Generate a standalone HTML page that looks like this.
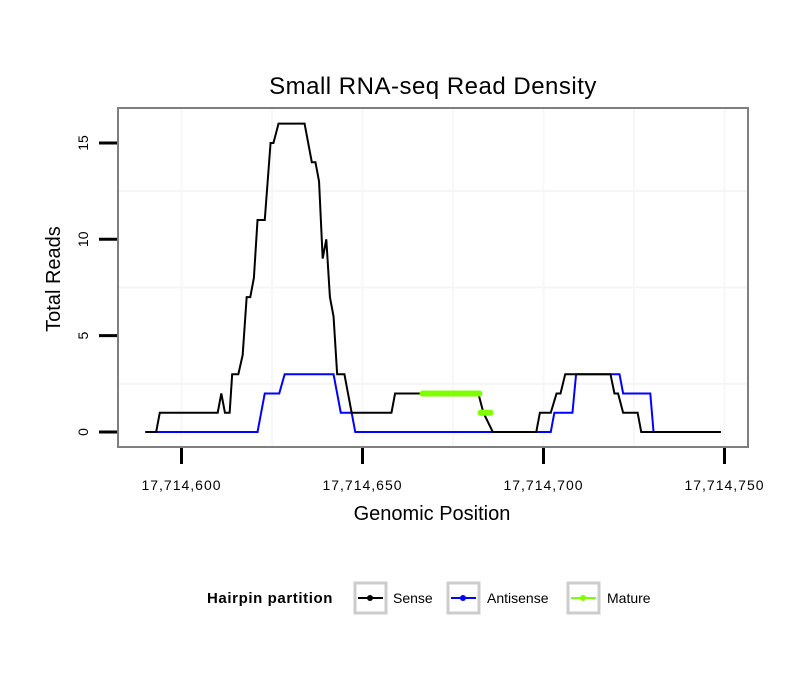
<!DOCTYPE html>
<html><head><meta charset="utf-8"><style>
body{margin:0;background:#fff}
svg text{font-family:"Liberation Sans",sans-serif}
</style></head><body>
<svg id="c" width="810" height="690">
<rect width="810" height="690" fill="#fff"/>
<text x="433" y="94" text-anchor="middle" font-size="24" letter-spacing="0.5">Small RNA-seq Read Density</text>
<g id="grid"></g>
<g id="series"></g>
<rect x="118" y="108" width="630" height="339" fill="none" stroke="#7f7f7f" stroke-width="2"/>
<g id="axes"></g>
<text x="432" y="520" text-anchor="middle" font-size="20">Genomic Position</text>
<text transform="translate(60,279) rotate(-90)" text-anchor="middle" font-size="20">Total Reads</text>
<g>
<text x="207" y="603" font-size="15" font-weight="bold" letter-spacing="0.6">Hairpin partition</text>
<g>
<rect x="355" y="583" width="31" height="30" fill="none" stroke="#ccc" stroke-width="3"/>
<line x1="358" y1="598" x2="383" y2="598" stroke="#000" stroke-width="2"/><circle cx="370" cy="598" r="3" fill="#000"/>
<text x="393" y="603" font-size="14">Sense</text></g>
<g>
<rect x="448" y="583" width="31" height="30" fill="none" stroke="#ccc" stroke-width="3"/>
<line x1="451" y1="598" x2="476" y2="598" stroke="#00f" stroke-width="2"/><circle cx="463" cy="598" r="3" fill="#00f"/>
<text x="487" y="603" font-size="14">Antisense</text></g>
<g>
<rect x="568" y="583" width="31" height="30" fill="none" stroke="#ccc" stroke-width="3"/>
<line x1="571" y1="598" x2="596" y2="598" stroke="#7fff00" stroke-width="2"/><circle cx="583" cy="598" r="3" fill="#7fff00"/>
<text x="607" y="603" font-size="14">Mature</text></g>
</g>
</svg>
<script>
const base = 17714600;
const xTicks = [17714600, 17714650, 17714700, 17714750];
const yTicks = [0, 5, 10, 15];
const senseX = [-10,-7,-6,10,11,12,13.3,14,15.7,16.9,18,19,20,21,23,24.6,25.4,26.8,34,36,37,38,39,40,41,42,43,45,47,58,59,82,83.4,86,98,99,102,103.6,104.7,106,118.5,119.6,120.6,122,126,127,149];
const senseY = [0,0,1,1,2,1,1,3,3,4,7,7,8,11,11,15,15,16,16,14,14,13,9,10,7,6,3,3,1,1,2,2,1,0,0,1,1,2,2,3,3,2,2,1,1,0,0];
const antiX = [-10,21,23,27,28.5,42,44,47,48,102,103,108,109,121,122,129.5,130.4,149];
const antiY = [0,0,2,2,3,3,1,1,0,0,1,1,3,3,2,2,0,0];
const matureX = [[66.6,82.3],[82.6,85.4]];
const matureY = [2,1];
const xs = p => 181.5 + p*3.62;
const ys = v => 432 - v*19.27;
const ns = 'http://www.w3.org/2000/svg';
function mk(tag, attrs, parent){const e=document.createElementNS(ns,tag);for(const k in attrs)e.setAttribute(k,attrs[k]);parent.appendChild(e);return e;}
const grid=document.getElementById('grid'), ser=document.getElementById('series'), ax=document.getElementById('axes');
[0,25,50,75,100,125,150].forEach(p=>{const l=mk('line',{x1:xs(p),x2:xs(p),y1:109,y2:446,stroke:'#f7f7f7','stroke-width':2},grid);

});
[2.5,7.5,12.5].forEach(v=>{const l=mk('line',{x1:119,x2:747,y1:ys(v),y2:ys(v),stroke:'#f5f5f5','stroke-width':2},grid);

});
function path(X,Y){return X.map((x,i)=>(i?'L':'M')+xs(x)+','+ys(Y[i])).join('');}
const a=mk('path',{d:path(antiX,antiY),fill:'none',stroke:'#00f','stroke-width':2},ser);


const s=mk('path',{d:path(senseX,senseY),fill:'none',stroke:'#000','stroke-width':2},ser);


matureX.forEach((r,i)=>{const m=mk('line',{x1:xs(r[0]),x2:xs(r[1]),y1:ys(matureY[i]),y2:ys(matureY[i]),stroke:'#7fff00','stroke-width':6,'stroke-linecap':'round'},ser);

});
xTicks.forEach(t=>{const x=xs(t-base);
const l=mk('line',{x1:x,x2:x,y1:448,y2:464,stroke:'#000','stroke-width':3},ax);


const tx=mk('text',{x:x,y:490,'text-anchor':'middle','font-size':14,'letter-spacing':1},ax);tx.textContent=t.toLocaleString('en-US');

});
yTicks.forEach(v=>{const y=ys(v);
const l=mk('line',{x1:99,x2:117,y1:y,y2:y,stroke:'#000','stroke-width':3},ax);


const tx=mk('text',{transform:`translate(88,${y}) rotate(-90)`,'text-anchor':'middle','font-size':14},ax);tx.textContent=v;

});
</script>
</body></html>
